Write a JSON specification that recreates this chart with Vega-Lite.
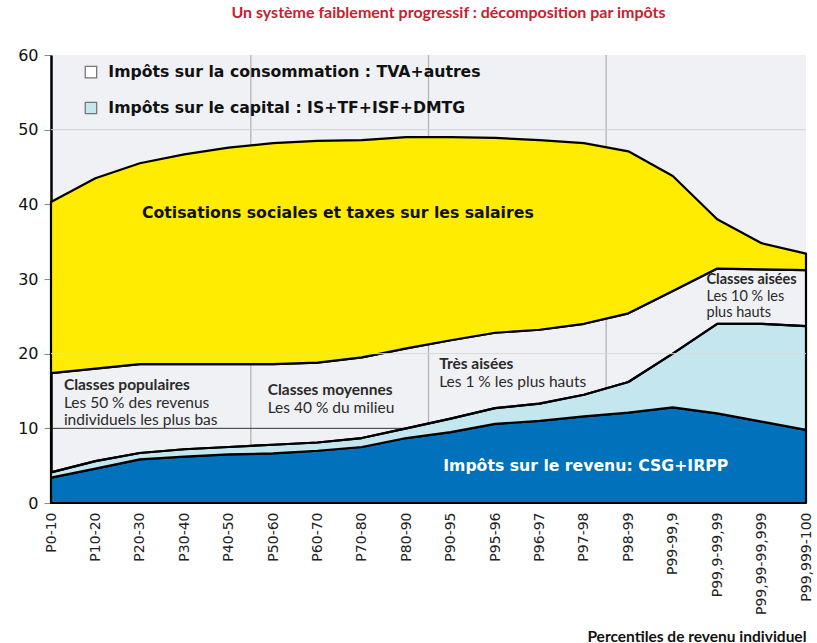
{
  "$schema": "https://vega.github.io/schema/vega-lite/v6.json",
  "width": 755,
  "height": 448,
  "autosize": {"type": "none"},
  "padding": {"left": 51, "top": 55, "right": 11, "bottom": 140},
  "background": "white",
  "view": {"fill": "#f0f1f4", "stroke": null},
  "config": {"axis": {"grid": false}},
  "title": {
    "text": "Un système faiblement progressif : décomposition par impôts",
    "font": "Lato",
    "fontSize": 16,
    "fontWeight": "bold",
    "color": "#c8202f",
    "anchor": "middle",
    "offset": 26,
    "dx": 20
  },
  "datasets": {
    "impots": [
      {"p": "P0-10", "i": 0, "impot": "Impôts sur le revenu", "rang": 1, "v": 3.4},
      {"p": "P10-20", "i": 1, "impot": "Impôts sur le revenu", "rang": 1, "v": 4.6},
      {"p": "P20-30", "i": 2, "impot": "Impôts sur le revenu", "rang": 1, "v": 5.85},
      {"p": "P30-40", "i": 3, "impot": "Impôts sur le revenu", "rang": 1, "v": 6.2},
      {"p": "P40-50", "i": 4, "impot": "Impôts sur le revenu", "rang": 1, "v": 6.5},
      {"p": "P50-60", "i": 5, "impot": "Impôts sur le revenu", "rang": 1, "v": 6.65},
      {"p": "P60-70", "i": 6, "impot": "Impôts sur le revenu", "rang": 1, "v": 7.0},
      {"p": "P70-80", "i": 7, "impot": "Impôts sur le revenu", "rang": 1, "v": 7.5},
      {"p": "P80-90", "i": 8, "impot": "Impôts sur le revenu", "rang": 1, "v": 8.7},
      {"p": "P90-95", "i": 9, "impot": "Impôts sur le revenu", "rang": 1, "v": 9.5},
      {"p": "P95-96", "i": 10, "impot": "Impôts sur le revenu", "rang": 1, "v": 10.6},
      {"p": "P96-97", "i": 11, "impot": "Impôts sur le revenu", "rang": 1, "v": 11.0},
      {"p": "P97-98", "i": 12, "impot": "Impôts sur le revenu", "rang": 1, "v": 11.6},
      {"p": "P98-99", "i": 13, "impot": "Impôts sur le revenu", "rang": 1, "v": 12.1},
      {"p": "P99-99,9", "i": 14, "impot": "Impôts sur le revenu", "rang": 1, "v": 12.8},
      {"p": "P99,9-99,99", "i": 15, "impot": "Impôts sur le revenu", "rang": 1, "v": 12.0},
      {"p": "P99,99-99,999", "i": 16, "impot": "Impôts sur le revenu", "rang": 1, "v": 10.9},
      {"p": "P99,999-100", "i": 17, "impot": "Impôts sur le revenu", "rang": 1, "v": 9.8},
      {"p": "P0-10", "i": 0, "impot": "Impôts sur le capital", "rang": 2, "v": 0.7},
      {"p": "P10-20", "i": 1, "impot": "Impôts sur le capital", "rang": 2, "v": 1.0},
      {"p": "P20-30", "i": 2, "impot": "Impôts sur le capital", "rang": 2, "v": 0.85},
      {"p": "P30-40", "i": 3, "impot": "Impôts sur le capital", "rang": 2, "v": 1.0},
      {"p": "P40-50", "i": 4, "impot": "Impôts sur le capital", "rang": 2, "v": 1.0},
      {"p": "P50-60", "i": 5, "impot": "Impôts sur le capital", "rang": 2, "v": 1.15},
      {"p": "P60-70", "i": 6, "impot": "Impôts sur le capital", "rang": 2, "v": 1.1},
      {"p": "P70-80", "i": 7, "impot": "Impôts sur le capital", "rang": 2, "v": 1.2},
      {"p": "P80-90", "i": 8, "impot": "Impôts sur le capital", "rang": 2, "v": 1.3},
      {"p": "P90-95", "i": 9, "impot": "Impôts sur le capital", "rang": 2, "v": 1.8},
      {"p": "P95-96", "i": 10, "impot": "Impôts sur le capital", "rang": 2, "v": 2.1},
      {"p": "P96-97", "i": 11, "impot": "Impôts sur le capital", "rang": 2, "v": 2.3},
      {"p": "P97-98", "i": 12, "impot": "Impôts sur le capital", "rang": 2, "v": 2.9},
      {"p": "P98-99", "i": 13, "impot": "Impôts sur le capital", "rang": 2, "v": 4.1},
      {"p": "P99-99,9", "i": 14, "impot": "Impôts sur le capital", "rang": 2, "v": 7.2},
      {"p": "P99,9-99,99", "i": 15, "impot": "Impôts sur le capital", "rang": 2, "v": 12.0},
      {"p": "P99,99-99,999", "i": 16, "impot": "Impôts sur le capital", "rang": 2, "v": 13.1},
      {"p": "P99,999-100", "i": 17, "impot": "Impôts sur le capital", "rang": 2, "v": 13.9},
      {"p": "P0-10", "i": 0, "impot": "Impôts sur la consommation", "rang": 3, "v": 13.3},
      {"p": "P10-20", "i": 1, "impot": "Impôts sur la consommation", "rang": 3, "v": 12.4},
      {"p": "P20-30", "i": 2, "impot": "Impôts sur la consommation", "rang": 3, "v": 11.9},
      {"p": "P30-40", "i": 3, "impot": "Impôts sur la consommation", "rang": 3, "v": 11.4},
      {"p": "P40-50", "i": 4, "impot": "Impôts sur la consommation", "rang": 3, "v": 11.1},
      {"p": "P50-60", "i": 5, "impot": "Impôts sur la consommation", "rang": 3, "v": 10.8},
      {"p": "P60-70", "i": 6, "impot": "Impôts sur la consommation", "rang": 3, "v": 10.7},
      {"p": "P70-80", "i": 7, "impot": "Impôts sur la consommation", "rang": 3, "v": 10.8},
      {"p": "P80-90", "i": 8, "impot": "Impôts sur la consommation", "rang": 3, "v": 10.7},
      {"p": "P90-95", "i": 9, "impot": "Impôts sur la consommation", "rang": 3, "v": 10.5},
      {"p": "P95-96", "i": 10, "impot": "Impôts sur la consommation", "rang": 3, "v": 10.1},
      {"p": "P96-97", "i": 11, "impot": "Impôts sur la consommation", "rang": 3, "v": 9.9},
      {"p": "P97-98", "i": 12, "impot": "Impôts sur la consommation", "rang": 3, "v": 9.5},
      {"p": "P98-99", "i": 13, "impot": "Impôts sur la consommation", "rang": 3, "v": 9.2},
      {"p": "P99-99,9", "i": 14, "impot": "Impôts sur la consommation", "rang": 3, "v": 8.4},
      {"p": "P99,9-99,99", "i": 15, "impot": "Impôts sur la consommation", "rang": 3, "v": 7.4},
      {"p": "P99,99-99,999", "i": 16, "impot": "Impôts sur la consommation", "rang": 3, "v": 7.3},
      {"p": "P99,999-100", "i": 17, "impot": "Impôts sur la consommation", "rang": 3, "v": 7.5},
      {"p": "P0-10", "i": 0, "impot": "Cotisations sociales", "rang": 4, "v": 22.9},
      {"p": "P10-20", "i": 1, "impot": "Cotisations sociales", "rang": 4, "v": 25.5},
      {"p": "P20-30", "i": 2, "impot": "Cotisations sociales", "rang": 4, "v": 26.9},
      {"p": "P30-40", "i": 3, "impot": "Cotisations sociales", "rang": 4, "v": 28.1},
      {"p": "P40-50", "i": 4, "impot": "Cotisations sociales", "rang": 4, "v": 29.0},
      {"p": "P50-60", "i": 5, "impot": "Cotisations sociales", "rang": 4, "v": 29.6},
      {"p": "P60-70", "i": 6, "impot": "Cotisations sociales", "rang": 4, "v": 29.7},
      {"p": "P70-80", "i": 7, "impot": "Cotisations sociales", "rang": 4, "v": 29.1},
      {"p": "P80-90", "i": 8, "impot": "Cotisations sociales", "rang": 4, "v": 28.3},
      {"p": "P90-95", "i": 9, "impot": "Cotisations sociales", "rang": 4, "v": 27.2},
      {"p": "P95-96", "i": 10, "impot": "Cotisations sociales", "rang": 4, "v": 26.1},
      {"p": "P96-97", "i": 11, "impot": "Cotisations sociales", "rang": 4, "v": 25.4},
      {"p": "P97-98", "i": 12, "impot": "Cotisations sociales", "rang": 4, "v": 24.2},
      {"p": "P98-99", "i": 13, "impot": "Cotisations sociales", "rang": 4, "v": 21.7},
      {"p": "P99-99,9", "i": 14, "impot": "Cotisations sociales", "rang": 4, "v": 15.4},
      {"p": "P99,9-99,99", "i": 15, "impot": "Cotisations sociales", "rang": 4, "v": 6.6},
      {"p": "P99,99-99,999", "i": 16, "impot": "Cotisations sociales", "rang": 4, "v": 3.5},
      {"p": "P99,999-100", "i": 17, "impot": "Cotisations sociales", "rang": 4, "v": 2.2}
    ],
    "seuils": [
      {"groupe": "50 %", "x": 4.5},
      {"groupe": "90 %", "x": 8.5},
      {"groupe": "98 %", "x": 12.5}
    ],
    "un": [{"n": 1}]
  },
  "layer": [
    {
      "data": {"name": "seuils"},
      "mark": {"type": "rule", "color": "#b4b4b8", "strokeWidth": 1.3},
      "encoding": {
        "x": {"field": "x", "type": "quantitative"},
        "y": {"datum": 0, "type": "quantitative"},
        "y2": {"datum": 60}
      }
    },
    {
      "data": {"name": "un"},
      "mark": {"type": "rule", "color": "#333333", "strokeWidth": 1},
      "encoding": {
        "y": {"datum": 10, "type": "quantitative"}
      }
    },
    {
      "data": {"name": "impots"},
      "mark": {"type": "area", "stroke": "black", "strokeWidth": 2.2, "strokeJoin": "round", "fillOpacity": 1},
      "encoding": {
        "x": {
          "field": "i",
          "type": "quantitative",
          "scale": {"domain": [0, 17], "nice": false, "zero": false},
          "axis": {
            "values": [0, 1, 2, 3, 4, 5, 6, 7, 8, 9, 10, 11, 12, 13, 14, 15, 16, 17],
            "labelExpr": "['P0-10','P10-20','P20-30','P30-40','P40-50','P50-60','P60-70','P70-80','P80-90','P90-95','P95-96','P96-97','P97-98','P98-99','P99-99,9','P99,9-99,99','P99,99-99,999','P99,999-100'][datum.value]",
            "labelAngle": 270,
            "labelFont": "DejaVu Sans",
            "labelFontSize": 14,
            "labelColor": "#222222",
            "labelPadding": 9,
            "labelFlush": false,
            "labelOverlap": false,
            "ticks": false,
            "domain": false,
            "grid": false,
            "title": "Percentiles de revenu individuel",
            "titleFont": "Lato",
            "titleFontSize": 15.5,
            "titleFontWeight": "bold",
            "titleColor": "#111111",
            "titleAnchor": "end",
            "titleAlign": "right",
            "titleX": 755,
            "titleY": 138,
            "titleBaseline": "alphabetic"
          }
        },
        "y": {
          "field": "v",
          "type": "quantitative",
          "stack": "zero",
          "scale": {"domain": [0, 60], "nice": false},
          "axis": {
            "values": [0, 10, 20, 30, 40, 50, 60],
            "title": null,
            "grid": false,
            "labelFont": "DejaVu Sans",
            "labelFontSize": 16,
            "labelColor": "#111111",
            "labelPadding": 6,
            "tickSize": 7,
            "tickColor": "#888888",
            "domainColor": "black",
            "domainWidth": 2.5
          }
        },
        "color": {
          "field": "impot",
          "type": "nominal",
          "scale": {
            "domain": ["Impôts sur le revenu", "Impôts sur le capital", "Impôts sur la consommation", "Cotisations sociales"],
            "range": ["#0071ba", "#c3e6ef", "rgba(0,0,0,0)", "#ffec00"]
          },
          "legend": null
        },
        "order": {"field": "rang", "type": "quantitative"}
      }
    },
    {
      "data": {"name": "un"},
      "mark": {"type": "rule", "color": "#d9d9dc", "strokeWidth": 1},
      "encoding": {
        "y": {"datum": 20, "type": "quantitative"}
      }
    },
    {
      "data": {"name": "un"},
      "mark": {"type": "rule", "color": "#d2d2d6", "strokeWidth": 1},
      "encoding": {
        "y": {"datum": 50, "type": "quantitative"}
      }
    },
    {
      "data": {"name": "un"},
      "mark": {"type": "text", "font": "DejaVu Sans", "fontSize": 15.7, "fontWeight": "bold", "color": "#111111", "align": "center", "baseline": "middle"},
      "encoding": {
        "x": {"datum": 6.46, "type": "quantitative"},
        "y": {"datum": 38.8, "type": "quantitative"},
        "text": {"value": "Cotisations sociales et taxes sur les salaires"}
      }
    },
    {
      "data": {"name": "un"},
      "mark": {"type": "text", "font": "DejaVu Sans", "fontSize": 15.7, "fontWeight": "bold", "color": "white", "align": "center", "baseline": "middle"},
      "encoding": {
        "x": {"datum": 12.04, "type": "quantitative"},
        "y": {"datum": 4.95, "type": "quantitative"},
        "text": {"value": "Impôts sur le revenu: CSG+IRPP"}
      }
    },
    {
      "data": {"name": "un"},
      "mark": {"type": "square", "size": 130, "fill": "white", "stroke": "#777777", "strokeWidth": 1.3, "opacity": 1},
      "encoding": {
        "x": {"datum": 0.9, "type": "quantitative"},
        "y": {"datum": 57.7, "type": "quantitative"}
      }
    },
    {
      "data": {"name": "un"},
      "mark": {"type": "square", "size": 130, "fill": "#c3e6ef", "stroke": "#777777", "strokeWidth": 1.3, "opacity": 1},
      "encoding": {
        "x": {"datum": 0.9, "type": "quantitative"},
        "y": {"datum": 52.9, "type": "quantitative"}
      }
    },
    {
      "data": {"name": "un"},
      "mark": {"type": "text", "font": "DejaVu Sans", "fontSize": 15.7, "fontWeight": "bold", "color": "#111111", "align": "left", "baseline": "middle"},
      "encoding": {
        "x": {"datum": 1.29, "type": "quantitative"},
        "y": {"datum": 57.7, "type": "quantitative"},
        "text": {"value": "Impôts sur la consommation : TVA+autres"}
      }
    },
    {
      "data": {"name": "un"},
      "mark": {"type": "text", "font": "DejaVu Sans", "fontSize": 15.7, "fontWeight": "bold", "color": "#111111", "align": "left", "baseline": "middle"},
      "encoding": {
        "x": {"datum": 1.29, "type": "quantitative"},
        "y": {"datum": 52.9, "type": "quantitative"},
        "text": {"value": "Impôts sur le capital : IS+TF+ISF+DMTG"}
      }
    },
    {
      "data": {"name": "un"},
      "mark": {"type": "text", "font": "Lato", "fontSize": 15.5, "fontWeight": "bold", "color": "#2a2a2a", "align": "left", "baseline": "middle"},
      "encoding": {
        "x": {"datum": 0.29, "type": "quantitative"},
        "y": {"datum": 15.8, "type": "quantitative"},
        "text": {"value": "Classes populaires"}
      }
    },
    {
      "data": {"name": "un"},
      "mark": {"type": "text", "font": "Lato", "fontSize": 15.5, "color": "#2a2a2a", "align": "left", "baseline": "middle", "lineHeight": 17.5},
      "encoding": {
        "x": {"datum": 0.29, "type": "quantitative"},
        "y": {"datum": 13.4, "type": "quantitative"},
        "text": {"value": ["Les 50 % des revenus", "individuels les plus bas"]}
      }
    },
    {
      "data": {"name": "un"},
      "mark": {"type": "text", "font": "Lato", "fontSize": 15.5, "fontWeight": "bold", "color": "#2a2a2a", "align": "left", "baseline": "middle"},
      "encoding": {
        "x": {"datum": 4.88, "type": "quantitative"},
        "y": {"datum": 15.1, "type": "quantitative"},
        "text": {"value": "Classes moyennes"}
      }
    },
    {
      "data": {"name": "un"},
      "mark": {"type": "text", "font": "Lato", "fontSize": 15.5, "color": "#2a2a2a", "align": "left", "baseline": "middle"},
      "encoding": {
        "x": {"datum": 4.88, "type": "quantitative"},
        "y": {"datum": 12.75, "type": "quantitative"},
        "text": {"value": "Les 40 % du milieu"}
      }
    },
    {
      "data": {"name": "un"},
      "mark": {"type": "text", "font": "Lato", "fontSize": 15.5, "fontWeight": "bold", "color": "#2a2a2a", "align": "left", "baseline": "middle"},
      "encoding": {
        "x": {"datum": 8.74, "type": "quantitative"},
        "y": {"datum": 18.6, "type": "quantitative"},
        "text": {"value": "Très aisées"}
      }
    },
    {
      "data": {"name": "un"},
      "mark": {"type": "text", "font": "Lato", "fontSize": 15.5, "color": "#2a2a2a", "align": "left", "baseline": "middle"},
      "encoding": {
        "x": {"datum": 8.74, "type": "quantitative"},
        "y": {"datum": 16.2, "type": "quantitative"},
        "text": {"value": "Les 1 % les plus hauts"}
      }
    },
    {
      "data": {"name": "un"},
      "mark": {"type": "text", "font": "Lato", "fontSize": 14.5, "fontWeight": "bold", "color": "#2a2a2a", "align": "left", "baseline": "middle"},
      "encoding": {
        "x": {"datum": 14.76, "type": "quantitative"},
        "y": {"datum": 29.8, "type": "quantitative"},
        "text": {"value": "Classes aisées"}
      }
    },
    {
      "data": {"name": "un"},
      "mark": {"type": "text", "font": "Lato", "fontSize": 14.5, "color": "#2a2a2a", "align": "left", "baseline": "middle"},
      "encoding": {
        "x": {"datum": 14.76, "type": "quantitative"},
        "y": {"datum": 27.6, "type": "quantitative"},
        "text": {"value": "Les 10 % les"}
      }
    },
    {
      "data": {"name": "un"},
      "mark": {"type": "text", "font": "Lato", "fontSize": 14.5, "color": "#2a2a2a", "align": "left", "baseline": "middle"},
      "encoding": {
        "x": {"datum": 14.76, "type": "quantitative"},
        "y": {"datum": 25.4, "type": "quantitative"},
        "text": {"value": "plus hauts"}
      }
    }
  ]
}
